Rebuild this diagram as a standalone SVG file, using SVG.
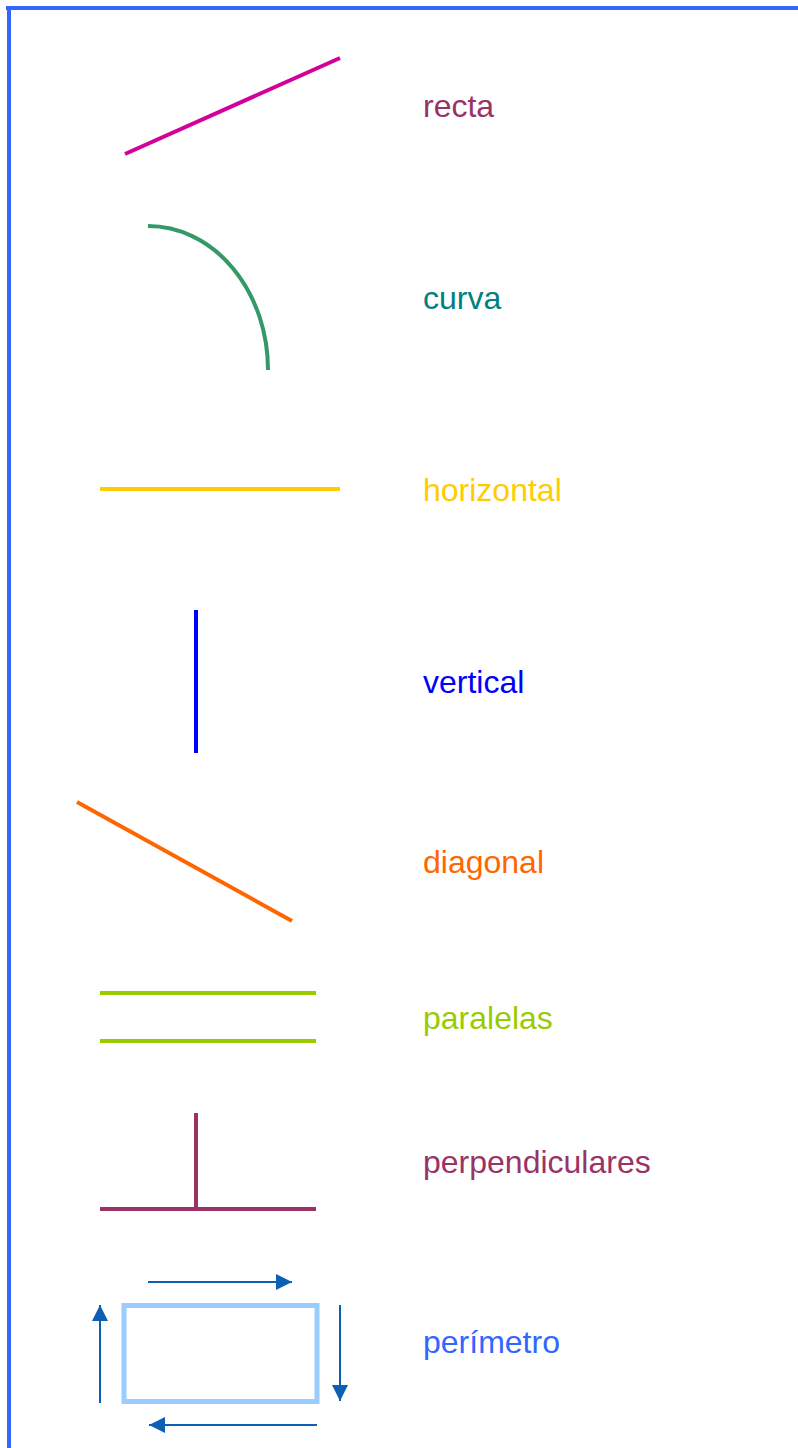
<svg xmlns="http://www.w3.org/2000/svg" width="798" height="1448" viewBox="0 0 798 1448">
<style>
text{font-family:"Liberation Sans",Arial,sans-serif;font-size:32px}
.ln{fill:none;stroke-width:4}
.arr{stroke:#0D5FB3;stroke-width:2;fill:none;marker-end:url(#ah)}
</style>
<defs>
<marker id="ah" viewBox="0 0 16 16" refX="16" refY="8" markerWidth="16" markerHeight="16" markerUnits="userSpaceOnUse" orient="auto">
<path d="M0,0 L16,8 L0,16 Z" fill="#0D5FB3"/>
</marker>
</defs>
<rect width="798" height="1448" fill="#fff"/>
<g id="border">
<line x1="6" y1="8" x2="798" y2="8" stroke="#3366FF" stroke-width="4"/>
<line x1="9" y1="6" x2="9" y2="1448" stroke="#3366FF" stroke-width="4"/>
</g>
<g id="recta">
<line class="ln" x1="125" y1="154" x2="340" y2="58" stroke="#D4009A"/>
<text x="423" y="117" fill="#993366">recta</text>
</g>
<g id="curva">
<path class="ln" d="M148,226 A120,144 0 0 1 268,370" stroke="#339966"/>
<text x="423" y="309" fill="#008080">curva</text>
</g>
<g id="horizontal">
<line class="ln" x1="100" y1="489" x2="340" y2="489" stroke="#FFCC00"/>
<text x="423" y="501" fill="#FFCC00">horizontal</text>
</g>
<g id="vertical">
<line class="ln" x1="196" y1="610" x2="196" y2="753" stroke="#0000FF" stroke-width="5"/>
<text x="423" y="693" fill="#0000FF">vertical</text>
</g>
<g id="diagonal">
<line class="ln" x1="77" y1="802" x2="292" y2="921" stroke="#FF6600"/>
<text x="423" y="873" fill="#FF6600">diagonal</text>
</g>
<g id="paralelas">
<line class="ln" x1="100" y1="993" x2="316" y2="993" stroke="#99CC00"/>
<line class="ln" x1="100" y1="1041" x2="316" y2="1041" stroke="#99CC00"/>
<text x="423" y="1029" fill="#99CC00">paralelas</text>
</g>
<g id="perpendiculares">
<line class="ln" x1="196" y1="1113" x2="196" y2="1209" stroke="#993366" stroke-width="5"/>
<line class="ln" x1="100" y1="1209" x2="316" y2="1209" stroke="#993366" stroke-width="5"/>
<text x="423" y="1173" fill="#993366">perpendiculares</text>
</g>
<g id="perimetro">
<rect x="124" y="1305.5" width="193" height="96" fill="none" stroke="#99CCFF" stroke-width="5"/>
<text x="423" y="1353" fill="#3366FF">perímetro</text>
</g>
<g id="connectors">
<line class="arr" x1="148" y1="1282" x2="292" y2="1282"/>
<line class="arr" x1="340" y1="1305" x2="340" y2="1401"/>
<line class="arr" x1="317" y1="1425" x2="149" y2="1425"/>
<line class="arr" x1="100" y1="1403" x2="100" y2="1305"/>
</g>
</svg>
